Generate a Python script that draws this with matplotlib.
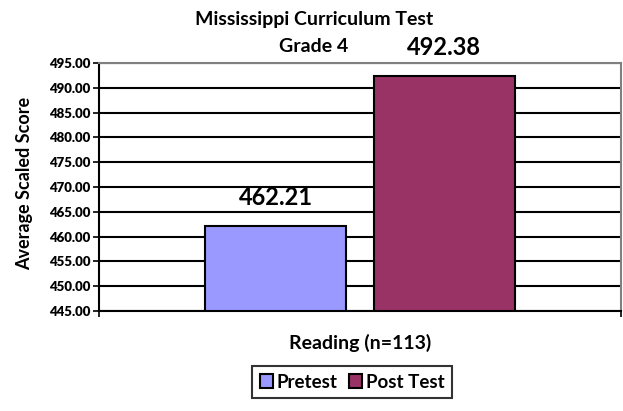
import matplotlib.pyplot as plt
import numpy as np

plt.rcParams['font.family'] = ['Lato', 'DejaVu Sans']

# data
series = ['Pretest', 'Post Test']
scores = [462.21, 492.38]
colors = ['#9999ff', '#993366']
category = 'Reading (n=113)'
yticks = np.arange(445, 496, 5)

fig = plt.figure(figsize=(6.23, 4.11), dpi=100)
ax = fig.add_axes([99 / 623, 1 - 311 / 411, 522 / 623, 248 / 411])

bar_w = 0.27
offsets = [-0.1616, 0.1616]
for name, val, c, off in zip(series, scores, colors, offsets):
    ax.bar(off, val - 445, bottom=445, width=bar_w, color=c, edgecolor='black',
           linewidth=1.5, label=name, zorder=3)
    ax.annotate(f'{val:.2f}', (off, val), xytext=(0, 12), textcoords='offset points',
                ha='center', va='bottom', fontsize=17, fontweight='bold',
                annotation_clip=False)

ax.set_xlim(-0.5, 0.5)
ax.set_ylim(445, 495)
ax.set_yticks(yticks)
ax.set_yticklabels([f'{v:.2f}' for v in yticks], fontsize=9.5, fontweight='heavy')
ax.yaxis.grid(True, color='black', linewidth=1.5, zorder=0)
ax.set_axisbelow(True)
ax.set_xticks([-0.5, 0.5])
ax.set_xticklabels(['', ''])
ax.tick_params(axis='x', length=4, width=1.2, direction='out')
ax.tick_params(axis='y', length=4, width=1.2, direction='out', pad=2)

ax.spines['left'].set_linewidth(1.5)
ax.spines['bottom'].set_linewidth(1.5)
ax.spines['top'].set_color('#808080')
ax.spines['right'].set_color('#808080')
ax.spines['top'].set_linewidth(1.5)
ax.spines['right'].set_linewidth(1.5)

fig.text(25 / 623, 1 - 183 / 411, 'Average Scaled Score', rotation=90, ha='center',
         va='center', fontsize=13, fontweight='bold')
fig.text(360 / 623, 1 - 343 / 411, category, ha='center', va='center',
         fontsize=14, fontweight='bold')

fig.text(314 / 623, 1 - 19 / 411, 'Mississippi Curriculum Test', ha='center', va='center',
         fontsize=14, fontweight='bold')
fig.text(314 / 623, 1 - 47 / 411, 'Grade 4', ha='center', va='center',
         fontsize=14, fontweight='bold')

leg = ax.legend(loc='center', bbox_to_anchor=(352 / 623, 1 - 382 / 411),
                bbox_transform=fig.transFigure, ncol=2,
                prop={'weight': 'bold', 'size': 13.5}, frameon=True, fancybox=False,
                handlelength=0.7, handleheight=0.8, handletextpad=0.2,
                columnspacing=0.6, borderpad=0.4, borderaxespad=0)
leg.get_frame().set_edgecolor('black')
leg.get_frame().set_linewidth(1.5)

fig.savefig('out.png', dpi=100)
